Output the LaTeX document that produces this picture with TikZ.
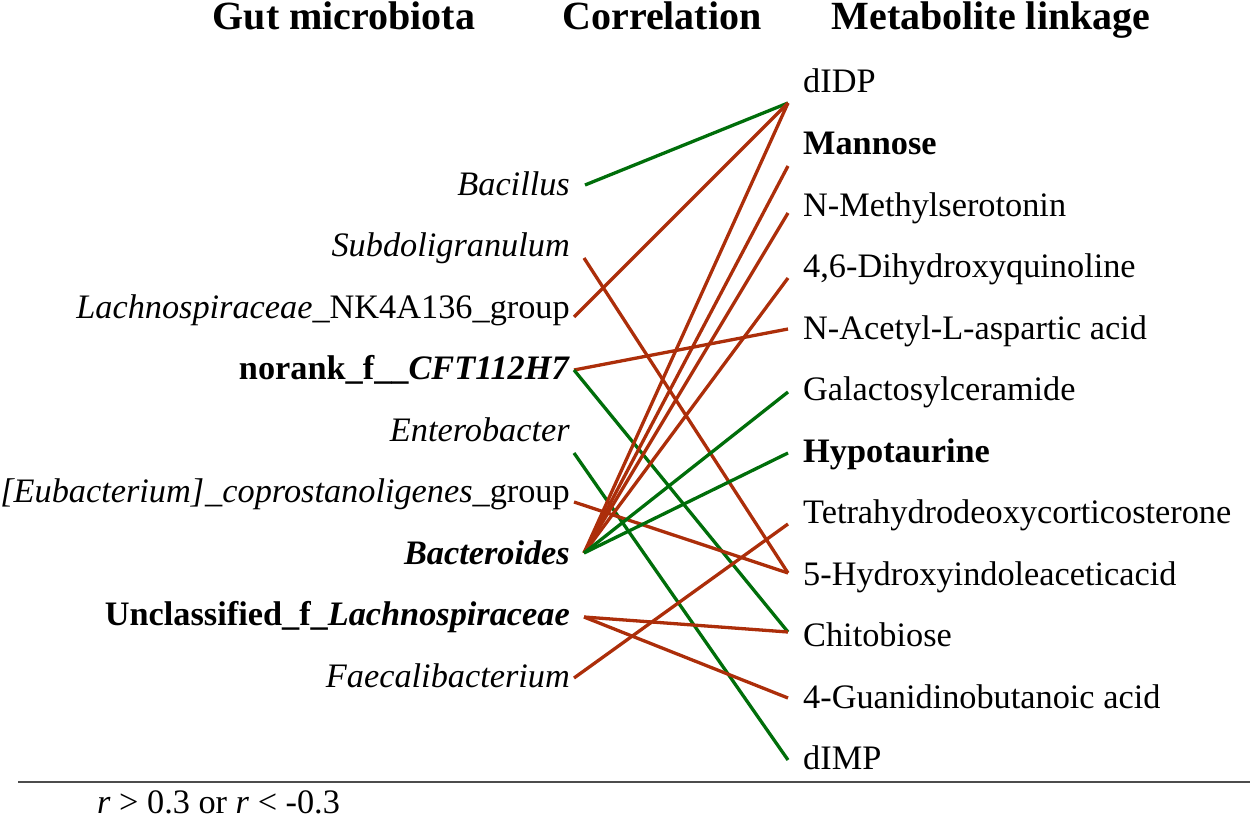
\documentclass[tikz,border=0pt]{standalone}
\usepackage{fontspec}
\setmainfont{Liberation Serif}
\definecolor{negred}{RGB}{172,46,10}
\definecolor{posgreen}{RGB}{0,110,10}
\tikzset{
  hdr/.style={font=\fontsize{40}{48}\selectfont\bfseries, inner sep=0pt, anchor=base},
  taxon/.style={font=\fontsize{34.3}{41}\selectfont, inner sep=0pt, anchor=base east},
  metab/.style={font=\fontsize{34.3}{41}\selectfont, inner sep=0pt, anchor=base west},
  neglink/.style={negred, line width=3.3pt},
  poslink/.style={posgreen, line width=3.3pt}
}

\begin{document}
\begin{tikzpicture}[x=1pt, y=-1pt]
  \useasboundingbox (0,0) rectangle (1250,824);

  \node[hdr] (h1) at (344,30) {Gut microbiota};
  \node[hdr] (h2) at (662,30) {Correlation};
  \node[hdr] (h3) at (991,30) {Metabolite linkage};

  \node[taxon] (bac) at (570,195) {\textit{Bacillus}};
  \node[taxon] (sub) at (570,256.5) {\textit{Subdoligranulum}};
  \node[taxon] (lac) at (570,318) {\textit{Lachnospiraceae}\_NK4A136\_group};
  \node[taxon] (nor) at (570,379.5) {\textbf{norank\_f\_\_\textit{CFT112H7}}};
  \node[taxon] (ent) at (570,441) {\textit{Enterobacter}};
  \node[taxon] (eub) at (570,502.5) {\textit{[Eubacterium]\kern1pt\_coprostanoligenes}\_group};
  \node[taxon] (bcd) at (570,564) {\textbf{\textit{Bacteroides}}};
  \node[taxon] (unc) at (570,625.5) {\textbf{Unclassified\_f\_\textit{Lachnospiraceae}}};
  \node[taxon] (fae) at (570,687) {\textit{Faecalibacterium}};

  \node[metab] (didp) at (803,93) {dIDP};
  \node[metab] (man) at (803,154.5) {\textbf{Mannose}};
  \node[metab] (nms) at (803,216) {N-Methylserotonin};
  \node[metab] (dhq) at (803,277.5) {4,6-Dihydroxyquinoline};
  \node[metab] (naa) at (803,339) {N-Acetyl-L-aspartic acid};
  \node[metab] (gal) at (803,400.5) {Galactosylceramide};
  \node[metab] (hyp) at (803,462) {\textbf{Hypotaurine}};
  \node[metab] (thd) at (803,523.5) {Tetrahydrodeoxycorticosterone};
  \node[metab] (hia) at (803,585) {5-Hydroxyindoleaceticacid};
  \node[metab] (chi) at (803,646.5) {Chitobiose};
  \node[metab] (gba) at (803,708) {4-Guanidinobutanoic acid};
  \node[metab] (dimp) at (803,769.5) {dIMP};

  \coordinate (bac-r) at (585,185);
  \coordinate (sub-r) at (584,258);
  \coordinate (lac-r) at (574,317);
  \coordinate (nor-r) at (574,370);
  \coordinate (ent-r) at (574,453);
  \coordinate (eub-r) at (574,502);
  \coordinate (bcd-r) at (584,553);
  \coordinate (unc-r) at (584,617);
  \coordinate (fae-r) at (574,678);

  \coordinate (didp-l) at (788,103);
  \coordinate (man-l) at (788,166);
  \coordinate (nms-l) at (788,213);
  \coordinate (dhq-l) at (788,278);
  \coordinate (naa-l) at (788,329);
  \coordinate (gal-l) at (788,392);
  \coordinate (hyp-l) at (788,453);
  \coordinate (thd-l) at (788,524);
  \coordinate (hia-l) at (788,573);
  \coordinate (chi-l) at (788,632);
  \coordinate (gba-l) at (788,698);
  \coordinate (dimp-l) at (788,760);

  \draw[poslink] (bac-r) -- (didp-l);
  \draw[neglink] (sub-r) -- (hia-l);
  \draw[neglink] (lac-r) -- (didp-l);
  \draw[neglink] (nor-r) -- (naa-l);
  \draw[poslink] (nor-r) -- (chi-l);
  \draw[poslink] (ent-r) -- (dimp-l);
  \draw[neglink] (eub-r) -- (hia-l);
  \foreach \t in {didp,man,nms,dhq}
    \draw[neglink] (bcd-r) -- (\t-l);
  \draw[poslink] (bcd-r) -- (gal-l);
  \draw[poslink] (bcd-r) -- (hyp-l);
  \draw[neglink] (unc-r) -- (chi-l);
  \draw[neglink] (unc-r) -- (gba-l);
  \draw[neglink] (fae-r) -- (thd-l);

  \coordinate (rule-a) at (18,782);
  \coordinate (rule-b) at (1250,782);
  \draw[black!70, line width=1.5pt] (rule-a) -- (rule-b);
  \node[font=\fontsize{34.3}{41}\selectfont, inner sep=0pt, anchor=base west] (note) at (97,813) {\textit{r} {>} 0.3 or \textit{r} {<} -0.3};
\end{tikzpicture}
\end{document}
